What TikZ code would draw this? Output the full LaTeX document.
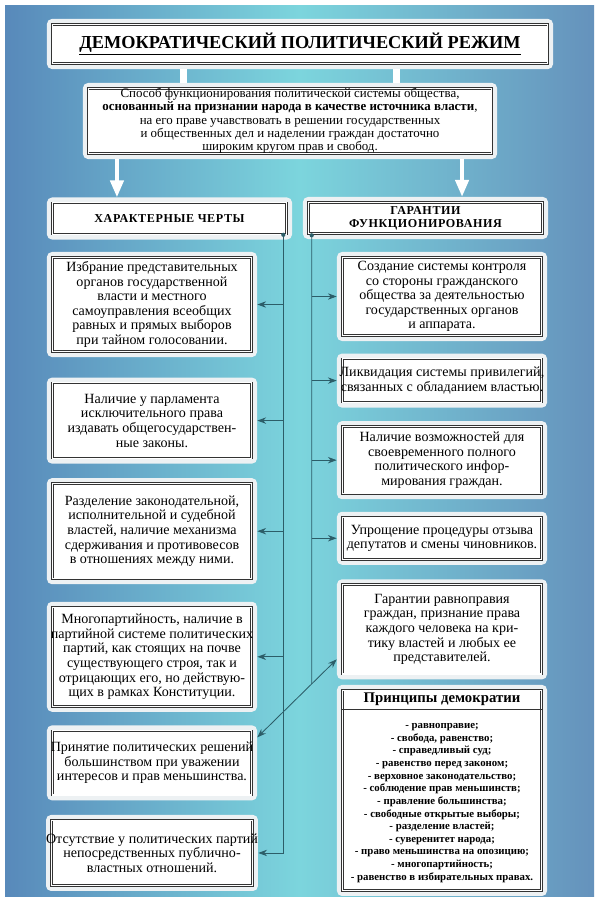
\documentclass[tikz,border=0pt]{standalone}
\usepackage{fontspec}
\setmainfont{Liberation Serif}
\usepackage{xcolor}
\usetikzlibrary{arrows.meta,positioning,calc,backgrounds}
\definecolor{bgleft}{HTML}{5889BA}
\definecolor{bgmiddle}{HTML}{7CD5DD}
\definecolor{bgright}{HTML}{6592BC}
\definecolor{framegray}{HTML}{EDF1F3}
\definecolor{busteal}{HTML}{2C5D68}
\tikzset{
  framedbox/.style={fill=framegray,rounded corners=3.5pt,align=center,inner sep=0pt,
    path picture={\draw[sharp corners,draw=black!80,line width=0.45pt,
      double=white,double distance=0.8pt,fill=white]
      ([shift={(3.8pt,3.8pt)}]path picture bounding box.south west) rectangle
      ([shift={(-3.8pt,-3.8pt)}]path picture bounding box.north east);}},
  textbox/.style={framedbox,minimum width=5.25cm,minimum height=#1,
    font=\fontsize{10}{10.4}\selectfont},
  headerbox/.style={framedbox,minimum width=6.125cm,minimum height=1.05cm,
    font=\fontsize{8.6}{9.2}\selectfont\bfseries\addfontfeature{LetterSpace=5}},
  busline/.style={draw=busteal,line width=0.6pt},
  busarrow/.style={busline,-{Stealth[length=2.2mm,width=1.6mm]}}
}

\begin{document}
\begin{tikzpicture}[x=0.025cm,y=-0.025cm,
  whitebar/.style={draw=white,line width=5pt},
  whitearrow/.style={draw=white,line width=2.6pt,-{Triangle[length=4.2mm,width=3.3mm]}}
]
  \useasboundingbox (0,0) rectangle (600,902);
  \fill[white] (0,0) rectangle (600,902);
  \shade[left color=bgleft,right color=bgright,middle color=bgmiddle] (5,5) rectangle (594,896);

  % title and definition
  \node[framedbox,minimum width=12.65cm,minimum height=1.25cm,
    font=\fontsize{13}{15}\selectfont\bfseries] (title) at (300,44)
    {\underline{ДЕМОКРАТИЧЕСКИЙ ПОЛИТИЧЕСКИЙ РЕЖИМ}};
  \node[framedbox,minimum width=10.35cm,minimum height=1.9cm,
    font=\fontsize{9.2}{9.5}\selectfont] (definition) at (290,121)
    {Способ функционирования политической системы общества,\\
     \textbf{основанный на признании народа в качестве источника власти},\\
     на его праве учавствовать в решении государственных\\
     и общественных дел и наделении граждан достаточно\\
     широким кругом прав и свобод.};
  \draw[whitebar] ([xshift=-2.9cm]title.south) -- ([xshift=-2.9cm]title.south |- definition.north);
  \draw[whitebar] ([xshift=2.4cm]title.south) -- ([xshift=2.4cm]title.south |- definition.north);

  \node[headerbox] (features) at (169.5,218.5) {ХАРАКТЕРНЫЕ ЧЕРТЫ};
  \node[headerbox] (guarantees) at (425.5,218) {ГАРАНТИИ\\ФУНКЦИОНИРОВАНИЯ};
  \draw[whitearrow] ([xshift=-4.325cm]definition.south) -- ([xshift=-4.325cm]definition.south |- features.north);
  \draw[whitearrow] ([xshift=4.3cm]definition.south) -- ([xshift=4.3cm]definition.south |- guarantees.north);

  % characteristic features
  \node[textbox=2.625cm] (feat1) at (152,304.5)
    {Избрание представительных\\органов государственной\\власти и местного\\
     самоуправления всеобщих\\равных и прямых выборов\\при тайном голосовании.};
  \node[textbox=2.15cm,below=0.5cm of feat1] (feat2)
    {Наличие у парламента\\исключительного права\\издавать общегосударствен-\\ные законы.};
  \node[textbox=2.65cm,below=0.35cm of feat2] (feat3)
    {Разделение законодательной,\\исполнительной и судебной\\властей, наличие механизма\\
     сдерживания и противовесов\\в отношениях между ними.};
  \node[textbox=2.75cm,below=0.425cm of feat3] (feat4)
    {Многопартийность, наличие в\\партийной системе политических\\партий, как стоящих на почве\\
     существующего строя, так и\\отрицающих его, но действую-\\щих в рамках Конституции.};
  \node[textbox=1.875cm,below=0.325cm of feat4] (feat5)
    {Принятие политических решений\\большинством при уважении\\интересов и прав меньшинства.};
  \node[textbox=1.9cm,below=0.35cm of feat5] (feat6)
    {Отсутствие у политических партий\\непосредственных публично-\\властных отношений.};

  % guarantees of functioning
  \node[textbox=2.225cm] (guar1) at (442,296.5)
    {Создание системы контроля\\со стороны гражданского\\общества за деятельностью\\
     государственных органов\\и аппарата.};
  \node[textbox=1.35cm,below=0.3cm of guar1] (guar2)
    {Ликвидация системы привилегий,\\связанных с обладанием властью.};
  \node[textbox=1.95cm,below=0.325cm of guar2] (guar3)
    {Наличие возможностей для\\своевременного полного\\политического инфор-\\мирования граждан.};
  \node[textbox=1.325cm,below=0.3cm of guar3] (guar4)
    {Упрощение процедуры отзыва\\депутатов и смены чиновников.};
  \node[textbox=2.5cm,below=0.35cm of guar4] (guar5)
    {Гарантии равноправия\\граждан, признание права\\каждого человека на кри-\\
     тику властей и любых ее\\представителей.};
  \node[textbox=5.275cm,below=0.125cm of guar5] (principles) {};
  \draw[draw=black!80,line width=0.6pt]
    ([xshift=0.125cm,yshift=-0.625cm]principles.north west) --
    ([xshift=-0.125cm,yshift=-0.625cm]principles.north east);
  \node[font=\fontsize{10.5}{12}\selectfont\bfseries] (principleshead)
    at ([yshift=-0.375cm]principles.north) {Принципы демократии};
  \node[align=center,font=\fontsize{7.7}{9}\selectfont\bfseries] (principleslist)
    at ([yshift=-0.3125cm]principles.center)
    {- равноправие;\\- свобода, равенство;\\- справедливый суд;\\- равенство перед законом;\\
     - верховное законодательство;\\- соблюдение прав меньшинств;\\- правление большинства;\\
     - свободные открытые выборы;\\- разделение властей;\\- суверенитет народа;\\
     - право меньшинства на опозицию;\\- многопартийность;\\- равенство в избирательных правах.};

  % connectors
  \coordinate (leftbus) at ([xshift=-0.225cm,yshift=0.125cm]features.south east);
  \coordinate (rightbus) at ([xshift=0.225cm,yshift=0.1cm]guarantees.south west);
  \coordinate (rightbusend) at (rightbus |- principles.south);
  \coordinate (crossstart) at ([yshift=0.6375cm]feat5.east);
  \coordinate (crossend) at ([yshift=-0.75cm]guar5.west);
  \fill[busteal] (leftbus) circle (1.5pt) (rightbus) circle (1.5pt);
  \draw[busarrow] (leftbus) |- (feat6);
  \foreach \panel in {feat1,feat2,feat3,feat4}
    \draw[busarrow] (leftbus |- \panel) -- (\panel);
  \draw[busline] (rightbus) -- (intersection of rightbus--rightbusend and crossstart--crossend);
  \foreach \panel in {guar1,guar2,guar3,guar4}
    \draw[busarrow] (rightbus |- \panel) -- (\panel);
  \draw[busline,{Stealth[length=2.2mm,width=1.6mm]}-{Stealth[length=2.2mm,width=1.6mm]}]
    (crossstart) -- (crossend);
\end{tikzpicture}
\end{document}
